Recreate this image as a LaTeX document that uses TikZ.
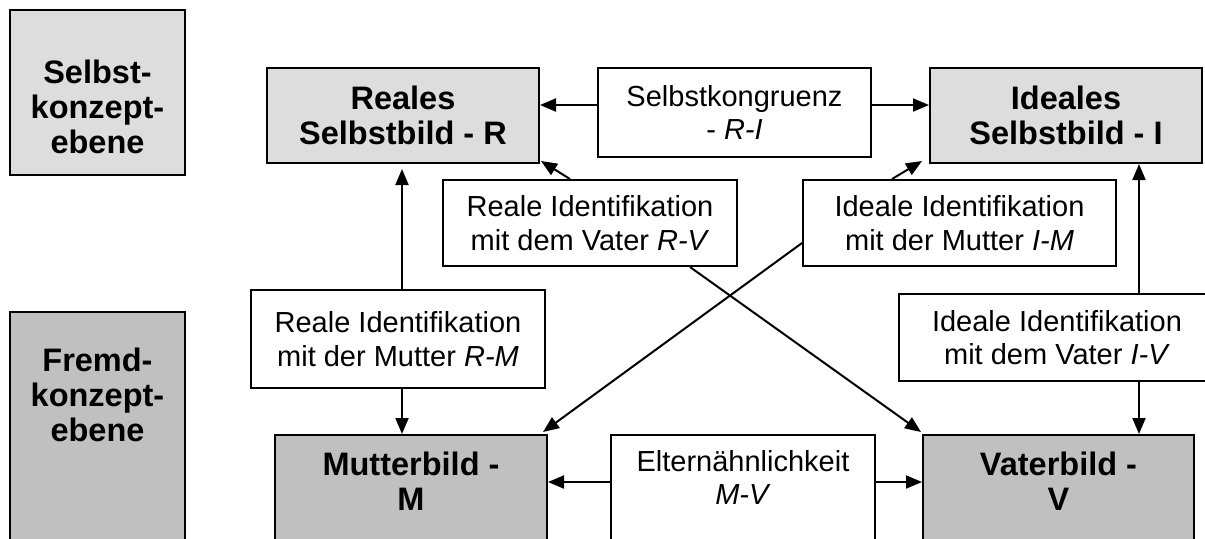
\documentclass[tikz,border=0pt]{standalone}
\usepackage{fontspec}
\setmainfont{Liberation Sans}
\usetikzlibrary{arrows.meta}
\definecolor{lightg}{RGB}{221,221,221}
\definecolor{darkg}{RGB}{192,192,192}
\tikzset{
  box/.style={draw, line width=1pt, inner sep=0pt, align=center},
  boldtxt/.style={font=\bfseries\fontsize{16.25}{17.5}\selectfont, align=center, inner sep=0pt},
  sidetxt/.style={font=\bfseries\fontsize{16.25}{17.5}\selectfont, align=center, inner sep=0pt},
  reltxt/.style={font=\fontsize{14.5}{16.75}\selectfont, align=center, inner sep=0pt},
  selfbox/.style={box, fill=lightg, boldtxt},
  otherbox/.style={box, fill=darkg},
  relbox/.style={box, fill=white, reltxt},
  arr/.style={line width=1pt, -{Triangle[length=8pt,width=6.5pt]}},
}
\begin{document}
\begin{tikzpicture}[x=0.5pt,y=-0.5pt]
\useasboundingbox (0,0) rectangle (1205,538);
\clip (0,0) rectangle (1205,538);
\fill[white] (0,0) rectangle (1205,538);
% level boxes
\node[box, fill=lightg, minimum width=87.5pt, minimum height=82.5pt] (SK) at (97.5,92.5) {};
\node[sidetxt] (SKt) at (97.5,107) {Selbst-\\konzept-\\ebene};
\node[otherbox, minimum width=87.5pt, minimum height=129pt] (FK) at (97.5,441) {};
\node[sidetxt] (FKt) at (97.5,395) {Fremd-\\konzept-\\ebene};
% self images
\node[selfbox, minimum width=136pt, minimum height=47.5pt] (R) at (403,115.5) {Reales\\Selbstbild - R};
\node[selfbox, minimum width=136pt, minimum height=47.5pt] (I) at (1066,115.5) {Ideales\\Selbstbild - I};
\node[relbox, minimum width=136.5pt, minimum height=44.5pt] (SKg) at (734.5,112.5) {Selbstkongruenz\\- \textit{R-I}};
% relation boxes
\node[relbox, minimum width=147pt, minimum height=43pt] (RV) at (590,223) {Reale Identifikation\\mit dem Vater \textit{R-V}};
\node[relbox, minimum width=156.5pt, minimum height=43pt] (IM) at (959.5,223) {Ideale Identifikation\\mit der Mutter \textit{I-M}};
\node[relbox, minimum width=147pt, minimum height=49pt] (RM) at (398,339) {Reale Identifikation\\mit der Mutter \textit{R-M}};
\node[relbox, minimum width=158pt, minimum height=43.5pt] (IV) at (1057,337.5) {Ideale Identifikation\\mit dem Vater \textit{I-V}};
% parent images
\node[otherbox, minimum width=136pt, minimum height=55pt] (M) at (411,490) {};
\node[boldtxt] (Mt) at (411,481.5) {Mutterbild -\\M};
\node[box, fill=white, minimum width=132pt, minimum height=55pt] (EL) at (743,490) {};
\node[reltxt] (ELt) at (743,477.5) {Elternähnlichkeit\\\textit{M-V}};
\node[otherbox, minimum width=135.5pt, minimum height=55pt] (V) at (1058.5,490) {};
\node[boldtxt] (Vt) at (1058.5,481.5) {Vaterbild -\\V};
% helper coordinates
\coordinate (ya) at (0,105);
\coordinate (ye) at (0,482);
\coordinate (xr) at (402,0);
\coordinate (xi) at (1139,0);
\path (xr |- R.south) ++(0,5) coordinate (rtip);
% connectors
\draw[arr] (SKg.west |- ya) -- (R.east |- ya);
\draw[arr] (SKg.east |- ya) -- (I.west |- ya);
\draw[arr] ([xshift=-10pt]RV.north) -- ([xshift=0.5pt,yshift=1.5pt]R.south east);
\draw[arr] ([xshift=50pt]RV.south) -- ([xshift=-0.5pt,yshift=1pt]V.north west);
\draw[arr] ([xshift=-33.75pt]IM.north) -- ([xshift=-3.5pt,yshift=1.5pt]I.south west);
\draw[arr] ([yshift=-10pt]IM.west) -- ([xshift=-2.5pt,yshift=1pt]M.north east);
\draw[arr] (xr |- RM.north) -- (rtip);
\draw[arr] (xr |- RM.south) -- (xr |- M.north);
\draw[arr] (xi |- IV.north) -- (xi |- I.south);
\draw[arr] (xi |- IV.south) -- (xi |- V.north);
\draw[arr] (EL.west |- ye) -- (M.east |- ye);
\draw[arr] (EL.east |- ye) -- (V.west |- ye);
\end{tikzpicture}
\end{document}
